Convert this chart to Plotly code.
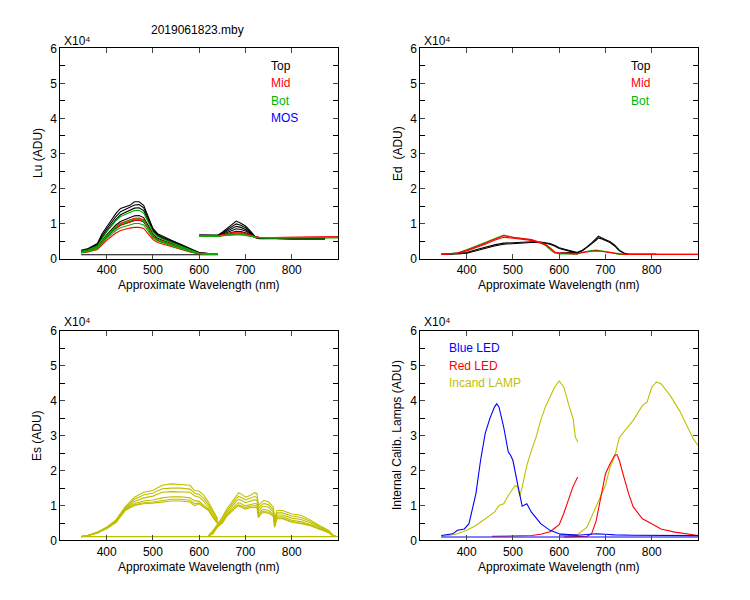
import plotly.graph_objects as go
from plotly.subplots import make_subplots

# values, in units of 10^4 ADU
# ---- Lu (top left) ----
wl_lu_a = [345, 360, 380, 390, 400, 410, 420, 430, 440, 450, 460, 470, 480, 490, 500, 510, 520, 540, 560, 580, 600, 620, 640]
lu_top_a = [
    [0.24, 0.29, 0.43, 0.71, 0.90, 1.10, 1.29, 1.43, 1.48, 1.52, 1.62, 1.62, 1.52, 1.19, 0.86, 0.71, 0.64, 0.52, 0.41, 0.29, 0.17, 0.14, 0.14],
    [0.22, 0.27, 0.40, 0.65, 0.84, 1.02, 1.20, 1.34, 1.40, 1.45, 1.53, 1.54, 1.45, 1.14, 0.82, 0.68, 0.61, 0.50, 0.39, 0.27, 0.16, 0.14, 0.14],
    [0.21, 0.25, 0.37, 0.60, 0.78, 0.95, 1.12, 1.25, 1.31, 1.36, 1.44, 1.45, 1.37, 1.08, 0.78, 0.65, 0.58, 0.47, 0.37, 0.26, 0.16, 0.14, 0.14],
    [0.19, 0.23, 0.33, 0.52, 0.68, 0.82, 0.96, 1.06, 1.12, 1.16, 1.22, 1.23, 1.17, 0.94, 0.69, 0.58, 0.52, 0.43, 0.33, 0.23, 0.15, 0.13, 0.13],
    [0.18, 0.21, 0.30, 0.47, 0.61, 0.74, 0.86, 0.95, 1.00, 1.04, 1.09, 1.10, 1.05, 0.85, 0.63, 0.53, 0.48, 0.39, 0.31, 0.21, 0.14, 0.13, 0.13],
]
lu_mid_a = [
    [0.19, 0.22, 0.32, 0.50, 0.65, 0.79, 0.92, 1.01, 1.06, 1.10, 1.15, 1.16, 1.11, 0.89, 0.66, 0.55, 0.50, 0.41, 0.32, 0.22, 0.15, 0.13, 0.13],
    [0.18, 0.21, 0.30, 0.47, 0.62, 0.75, 0.87, 0.96, 1.01, 1.05, 1.09, 1.10, 1.05, 0.85, 0.63, 0.53, 0.48, 0.39, 0.31, 0.21, 0.14, 0.13, 0.13],
    [0.16, 0.19, 0.26, 0.40, 0.52, 0.63, 0.73, 0.80, 0.84, 0.87, 0.89, 0.89, 0.86, 0.71, 0.54, 0.46, 0.42, 0.35, 0.28, 0.19, 0.13, 0.12, 0.12],
]
lu_bot_a = [
    [0.21, 0.25, 0.36, 0.58, 0.76, 0.92, 1.08, 1.20, 1.26, 1.30, 1.37, 1.38, 1.30, 1.03, 0.75, 0.63, 0.56, 0.46, 0.36, 0.25, 0.15, 0.13, 0.13],
    [0.18, 0.22, 0.31, 0.49, 0.64, 0.77, 0.90, 0.99, 1.04, 1.08, 1.12, 1.13, 1.08, 0.87, 0.64, 0.54, 0.49, 0.40, 0.32, 0.22, 0.14, 0.13, 0.13],
    [0.17, 0.20, 0.28, 0.44, 0.57, 0.69, 0.80, 0.88, 0.93, 0.96, 1.00, 1.00, 0.96, 0.78, 0.59, 0.50, 0.45, 0.37, 0.29, 0.20, 0.14, 0.12, 0.12],
]
wl_lu_dark = [345, 640]
lu_dark = [0.11, 0.11]

wl_lu_b = [600, 620, 640, 650, 660, 670, 680, 690, 700, 710, 720, 730, 760, 800, 850, 900]
wl_lu_top_b = [600, 620, 640, 650, 660, 670, 680, 690, 700, 710, 720, 730, 760, 800, 850, 872]
lu_top_b = [
    [0.67, 0.66, 0.67, 0.75, 0.86, 0.98, 1.07, 1.01, 0.93, 0.80, 0.64, 0.58, 0.57, 0.57, 0.57, 0.57],
    [0.67, 0.66, 0.66, 0.73, 0.82, 0.92, 0.99, 0.95, 0.88, 0.76, 0.62, 0.58, 0.57, 0.57, 0.57, 0.57],
    [0.66, 0.65, 0.66, 0.71, 0.78, 0.86, 0.92, 0.89, 0.83, 0.73, 0.61, 0.58, 0.57, 0.57, 0.57, 0.57],
    [0.66, 0.65, 0.65, 0.69, 0.75, 0.81, 0.85, 0.83, 0.79, 0.70, 0.61, 0.58, 0.57, 0.57, 0.57, 0.57],
    [0.65, 0.64, 0.64, 0.67, 0.71, 0.75, 0.78, 0.77, 0.74, 0.67, 0.60, 0.57, 0.57, 0.57, 0.57, 0.57],
]
lu_mid_b = [
    [0.66, 0.65, 0.65, 0.68, 0.71, 0.74, 0.76, 0.75, 0.72, 0.68, 0.63, 0.61, 0.60, 0.61, 0.61, 0.62],
    [0.65, 0.64, 0.64, 0.67, 0.70, 0.72, 0.73, 0.72, 0.70, 0.66, 0.62, 0.60, 0.60, 0.60, 0.61, 0.62],
    [0.64, 0.63, 0.63, 0.65, 0.67, 0.69, 0.70, 0.69, 0.67, 0.64, 0.61, 0.60, 0.59, 0.60, 0.60, 0.61],
]
lu_bot_b = [
    [0.65, 0.64, 0.64, 0.66, 0.68, 0.70, 0.71, 0.70, 0.68, 0.65, 0.61, 0.60, 0.59, 0.60, 0.60, 0.60],
    [0.64, 0.63, 0.63, 0.65, 0.66, 0.68, 0.68, 0.68, 0.66, 0.63, 0.60, 0.59, 0.59, 0.59, 0.59, 0.59],
]

# ---- Ed (top right) ----
wl_ed_a = [345, 360, 380, 400, 420, 440, 460, 480, 500, 520, 540, 560, 570, 580, 590, 600, 620, 640]
ed_top_a = [
    [0.12, 0.13, 0.14, 0.17, 0.25, 0.33, 0.39, 0.44, 0.46, 0.47, 0.48, 0.47, 0.45, 0.43, 0.38, 0.31, 0.24, 0.17],
    [0.12, 0.12, 0.13, 0.15, 0.22, 0.30, 0.36, 0.41, 0.43, 0.45, 0.46, 0.46, 0.44, 0.41, 0.36, 0.29, 0.22, 0.16],
]
ed_mid_a = [
    [0.12, 0.13, 0.16, 0.24, 0.33, 0.44, 0.55, 0.65, 0.61, 0.57, 0.54, 0.46, 0.41, 0.31, 0.19, 0.16, 0.15, 0.14],
    [0.12, 0.13, 0.15, 0.22, 0.31, 0.41, 0.52, 0.61, 0.58, 0.55, 0.52, 0.44, 0.39, 0.30, 0.18, 0.15, 0.14, 0.13],
]
ed_bot_a = [
    [0.12, 0.13, 0.16, 0.25, 0.35, 0.46, 0.57, 0.67, 0.61, 0.56, 0.53, 0.45, 0.38, 0.26, 0.16, 0.14, 0.13, 0.13],
]
wl_ed_top_b = [600, 620, 640, 650, 660, 670, 680, 685, 690, 700, 710, 720, 730, 740, 750, 810]
ed_top_b = [
    [0.15, 0.16, 0.18, 0.24, 0.33, 0.45, 0.57, 0.64, 0.60, 0.55, 0.48, 0.38, 0.24, 0.16, 0.12, 0.12],
    [0.15, 0.16, 0.17, 0.22, 0.31, 0.42, 0.53, 0.59, 0.57, 0.52, 0.46, 0.36, 0.22, 0.15, 0.12, 0.12],
]
wl_ed_b = [600, 620, 640, 650, 660, 670, 680, 685, 690, 700, 710, 720, 730, 740, 750, 800, 900]
ed_mid_b = [[0.15, 0.14, 0.14, 0.17, 0.20, 0.21, 0.22, 0.22, 0.21, 0.19, 0.17, 0.15, 0.13, 0.12, 0.12, 0.12, 0.12]]
ed_bot_b = [[0.14, 0.14, 0.14, 0.18, 0.21, 0.23, 0.24, 0.24, 0.22, 0.20, 0.17, 0.14, 0.12, 0.12, 0.12, 0.12, 0.12]]

# ---- Es (bottom left) ----
wl_es_a = [345, 360, 380, 400, 420, 440, 460, 480, 500, 520, 540, 560, 580, 590, 600, 610, 620, 630, 640]
es_a = [
    [0.11, 0.15, 0.24, 0.38, 0.59, 0.96, 1.24, 1.38, 1.43, 1.58, 1.62, 1.60, 1.58, 1.43, 1.41, 1.29, 1.10, 0.86, 0.62],
    [0.11, 0.15, 0.23, 0.37, 0.57, 0.93, 1.18, 1.30, 1.36, 1.48, 1.50, 1.50, 1.47, 1.36, 1.32, 1.20, 1.03, 0.80, 0.58],
    [0.11, 0.14, 0.23, 0.36, 0.55, 0.91, 1.12, 1.22, 1.27, 1.38, 1.40, 1.40, 1.38, 1.28, 1.24, 1.12, 0.96, 0.74, 0.54],
    [0.11, 0.14, 0.22, 0.35, 0.53, 0.89, 1.06, 1.13, 1.16, 1.22, 1.25, 1.25, 1.22, 1.14, 1.12, 1.02, 0.90, 0.68, 0.51],
    [0.11, 0.14, 0.22, 0.34, 0.52, 0.87, 1.02, 1.08, 1.10, 1.15, 1.18, 1.18, 1.15, 1.06, 1.07, 0.97, 0.88, 0.66, 0.49],
    [0.11, 0.14, 0.21, 0.34, 0.51, 0.86, 1.00, 1.05, 1.07, 1.10, 1.13, 1.13, 1.10, 1.00, 1.05, 0.95, 0.86, 0.65, 0.48],
]
wl_es_b = [620, 630, 640, 650, 660, 670, 680, 685, 690, 700, 710, 720, 725, 728, 735, 740, 750, 760, 763, 768, 780, 800, 820, 840, 860, 880, 890, 895]
es_b = [
    [0.14, 0.29, 0.48, 0.67, 0.91, 1.10, 1.29, 1.36, 1.34, 1.24, 1.29, 1.37, 1.34, 1.00, 1.10, 1.15, 1.10, 0.96, 0.62, 0.86, 0.86, 0.76, 0.72, 0.59, 0.43, 0.29, 0.14, 0.12],
    [0.13, 0.26, 0.45, 0.62, 0.85, 1.03, 1.20, 1.26, 1.24, 1.16, 1.20, 1.26, 1.23, 0.92, 1.02, 1.06, 1.02, 0.89, 0.54, 0.79, 0.79, 0.70, 0.66, 0.55, 0.40, 0.27, 0.14, 0.12],
    [0.13, 0.24, 0.43, 0.58, 0.80, 0.97, 1.12, 1.18, 1.16, 1.08, 1.12, 1.17, 1.14, 0.84, 0.95, 0.98, 0.95, 0.83, 0.48, 0.73, 0.73, 0.64, 0.60, 0.51, 0.37, 0.25, 0.13, 0.12],
    [0.12, 0.22, 0.41, 0.54, 0.75, 0.90, 1.03, 1.08, 1.06, 0.99, 1.03, 1.06, 1.04, 0.76, 0.87, 0.89, 0.86, 0.77, 0.44, 0.68, 0.68, 0.58, 0.54, 0.46, 0.34, 0.24, 0.13, 0.12],
    [0.12, 0.21, 0.40, 0.52, 0.72, 0.85, 0.98, 1.02, 1.00, 0.94, 0.98, 1.00, 0.98, 0.70, 0.82, 0.83, 0.81, 0.72, 0.40, 0.64, 0.64, 0.54, 0.50, 0.44, 0.33, 0.23, 0.13, 0.12],
    [0.12, 0.20, 0.40, 0.50, 0.70, 0.83, 0.96, 0.99, 0.96, 0.90, 0.94, 0.95, 0.93, 0.65, 0.78, 0.80, 0.78, 0.70, 0.38, 0.62, 0.62, 0.52, 0.48, 0.42, 0.32, 0.22, 0.12, 0.12],
]
wl_es_dark = [345, 900]
es_dark = [0.11, 0.11]

# ---- internal calibration lamps (bottom right) ----
wl_blue_a = [345, 370, 380, 395, 405, 410, 420, 430, 440, 450, 455, 460, 465, 470, 480, 490, 495, 500, 510, 515, 520, 530, 540, 560, 580, 600, 620, 640]
blue_a = [0.14, 0.19, 0.29, 0.33, 0.48, 0.76, 1.34, 2.29, 3.06, 3.49, 3.68, 3.82, 3.92, 3.82, 3.25, 2.53, 2.44, 2.29, 1.62, 1.24, 0.98, 1.05, 0.81, 0.48, 0.29, 0.19, 0.17, 0.15]
wl_blue_b = [600, 640, 660, 680, 700, 720, 760, 800, 850, 900]
blue_b = [0.16, 0.15, 0.17, 0.19, 0.18, 0.16, 0.15, 0.15, 0.14, 0.14]
wl_blue_dark = [345, 900]
blue_dark = [0.10, 0.10]

wl_red_a = [455, 500, 540, 560, 580, 590, 600, 610, 620, 630, 640]
red_a = [0.12, 0.13, 0.14, 0.18, 0.25, 0.35, 0.45, 0.78, 1.20, 1.55, 1.82]
wl_red_b = [610, 660, 670, 680, 690, 700, 710, 720, 725, 730, 740, 750, 760, 780, 800, 820, 850, 880, 900]
red_b = [0.10, 0.12, 0.19, 0.57, 1.24, 1.91, 2.20, 2.44, 2.46, 2.29, 1.81, 1.34, 0.96, 0.62, 0.48, 0.33, 0.24, 0.19, 0.14]

wl_lamp_a = [345, 360, 380, 400, 420, 440, 460, 470, 480, 490, 500, 505, 510, 515, 520, 530, 540, 550, 560, 570, 580, 590, 600, 610, 620, 630, 635, 640]
lamp_a = [0.12, 0.14, 0.19, 0.29, 0.43, 0.62, 0.81, 1.00, 1.05, 1.29, 1.48, 1.58, 1.53, 1.26, 1.53, 2.15, 2.58, 2.96, 3.44, 3.82, 4.11, 4.39, 4.57, 4.39, 3.92, 3.49, 2.96, 2.82]
wl_lamp_b = [620, 640, 660, 680, 700, 710, 720, 730, 740, 760, 780, 790, 800, 810, 820, 840, 860, 880, 890, 900]
lamp_b = [0.14, 0.17, 0.38, 0.96, 1.58, 2.10, 2.40, 2.95, 3.12, 3.44, 3.87, 3.97, 4.39, 4.54, 4.49, 4.15, 3.72, 3.15, 2.91, 2.72]

BLACK = "#000000"
RED = "#ff0000"
GREEN = "#00b300"
BLUE = "#0000ff"
OLIVE = "#bfbf00"
FONT = "Liberation Sans, Arial, sans-serif"

W, H = 750, 600
# the page is drawn a little shifted / squeezed, so screen pixels are mapped back to paper
OFF_X, OFF_Y, SY = 8.3, 14.9, 0.976


def px(xp, yp):
    return (xp - OFF_X) / W, 1 - (yp - OFF_Y) / SY / H


fig = make_subplots(rows=2, cols=2)


def add(x, y, color, row, col):
    fig.add_trace(go.Scatter(x=x, y=y, mode="lines", line=dict(color=color, width=1.1),
                             showlegend=False, hoverinfo="skip"), row=row, col=col)


# Lu
add(wl_lu_dark, lu_dark, BLACK, 1, 1)
for ys in lu_top_a:
    add(wl_lu_a, ys, BLACK, 1, 1)
for ys in lu_top_b:
    add(wl_lu_top_b, ys, BLACK, 1, 1)
for ys in lu_mid_a:
    add(wl_lu_a, ys, RED, 1, 1)
for ys in lu_mid_b:
    add(wl_lu_b, ys, RED, 1, 1)
for ys in lu_bot_a:
    add(wl_lu_a, ys, GREEN, 1, 1)
for ys in lu_bot_b:
    add(wl_lu_b, ys, GREEN, 1, 1)

# Ed
for ys in ed_top_a:
    add(wl_ed_a, ys, BLACK, 1, 2)
for ys in ed_top_b:
    add(wl_ed_top_b, ys, BLACK, 1, 2)
for ys in ed_bot_a:
    add(wl_ed_a, ys, GREEN, 1, 2)
for ys in ed_bot_b:
    add(wl_ed_b, ys, GREEN, 1, 2)
for ys in ed_mid_a:
    add(wl_ed_a, ys, RED, 1, 2)
for ys in ed_mid_b:
    add(wl_ed_b, ys, RED, 1, 2)

# Es
add(wl_es_dark, es_dark, OLIVE, 2, 1)
for ys in es_a:
    add(wl_es_a, ys, OLIVE, 2, 1)
for ys in es_b:
    add(wl_es_b, ys, OLIVE, 2, 1)

# lamps
add(wl_lamp_a, lamp_a, OLIVE, 2, 2)
add(wl_lamp_b, lamp_b, OLIVE, 2, 2)
add(wl_red_a, red_a, RED, 2, 2)
add(wl_red_b, red_b, RED, 2, 2)
add(wl_blue_dark, blue_dark, BLUE, 2, 2)
add(wl_blue_a, blue_a, BLUE, 2, 2)
add(wl_blue_b, blue_b, BLUE, 2, 2)

# axes boxes on screen (left, right, top, bottom pixels)
boxes = {(1, 1): (60.7, 338.3, 48.3, 258.3), (1, 2): (420.7, 698.3, 48.3, 258.3),
         (2, 1): (60.7, 338.3, 330.7, 540.0), (2, 2): (420.7, 698.3, 330.7, 540.0)}

for (r, c), (x0, x1, y0, y1) in boxes.items():
    dx0, dy0 = px(x0, y1)
    dx1, dy1 = px(x1, y0)
    fig.update_xaxes(domain=[dx0, dx1], range=[300, 900],
                     tickvals=[400, 500, 600, 700, 800], ticks="inside", ticklen=5,
                     showline=True, linecolor="black", linewidth=1, mirror="ticks",
                     showgrid=False, zeroline=False,
                     tickfont=dict(family=FONT, size=12, color="black"), row=r, col=c)
    fig.update_yaxes(domain=[dy0, dy1], range=[0, 6], tick0=0, dtick=1,
                     ticks="inside", ticklen=5,
                     minor=dict(dtick=0.5, ticks="inside", ticklen=5, tickcolor="black", showgrid=False),
                     showline=True, linecolor="black", linewidth=1, mirror="ticks",
                     showgrid=False, zeroline=False,
                     tickfont=dict(family=FONT, size=12, color="black"), row=r, col=c)

ann = []


def text(x, y, s, color="black", xanchor="center", angle=0, xref="paper", yref="paper", size=12):
    ann.append(dict(x=x, y=y, text=s, showarrow=False, xref=xref, yref=yref,
                    xanchor=xanchor, yanchor="middle", textangle=angle,
                    font=dict(family=FONT, size=size, color=color)))


def ptext(xp, yp, s, **kw):
    x, y = px(xp, yp)
    text(x, y, s, **kw)


ptext(198, 29.5, "2019061823.mby")
for (x0, y_px) in [(62, 40.5), (422, 40.5), (62, 322), (422, 322)]:
    ptext(x0, y_px, "X10⁴", xanchor="left")

ptext(38, 153, "Lu (ADU)", angle=-90)
ptext(398, 153, "Ed  (ADU)", angle=-90)
ptext(38, 435, "Es (ADU)", angle=-90)
ptext(398, 435, "Internal Calib. Lamps (ADU)", angle=-90)

for xc, yc in [(199, 285), (559, 285), (199, 567), (559, 567)]:
    ptext(xc, yc, "Approximate Wavelength (nm)")

for lbl, yv, col in [("Top", 5.5, BLACK), ("Mid", 5.0, RED), ("Bot", 4.5, GREEN), ("MOS", 4.0, BLUE)]:
    text(750, yv, lbl, color=col, xanchor="left", xref="x", yref="y")
for lbl, yv, col in [("Top", 5.5, BLACK), ("Mid", 5.0, RED), ("Bot", 4.5, GREEN)]:
    text(750, yv, lbl, color=col, xanchor="left", xref="x2", yref="y2")
for lbl, yv, col in [("Blue LED", 5.52, BLUE), ("Red LED", 5.01, RED), ("Incand LAMP", 4.52, OLIVE)]:
    text(358, yv, lbl, color=col, xanchor="left", xref="x4", yref="y4")

fig.update_layout(width=W, height=H, margin=dict(l=0, r=0, t=0, b=0),
                  paper_bgcolor="white", plot_bgcolor="white",
                  annotations=ann, showlegend=False)

fig.write_html("out.html")
